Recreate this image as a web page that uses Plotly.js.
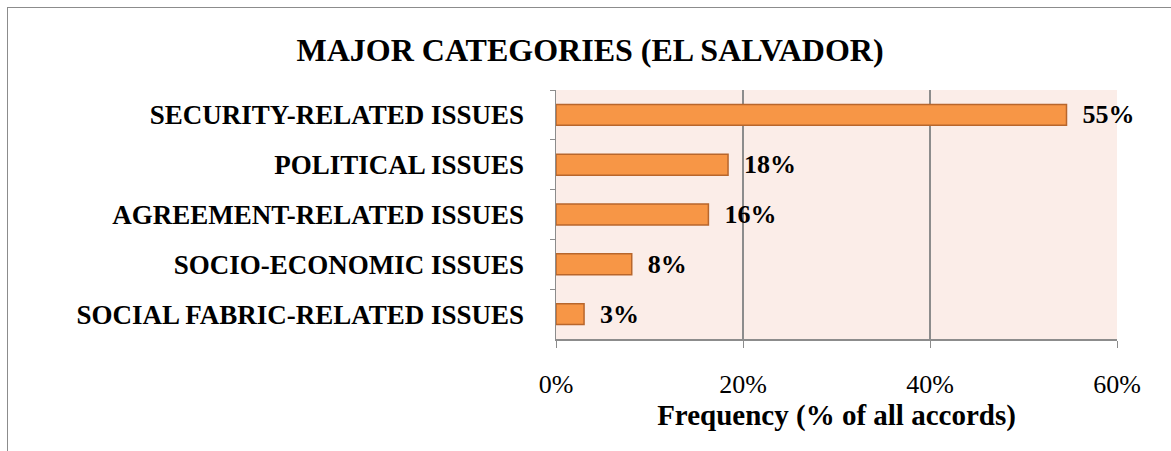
<!DOCTYPE html>
<html>
<head>
<meta charset="utf-8">
<script src="https://cdn.plot.ly/plotly-3.0.1.min.js"></script>
<style>
  body { margin: 0; background: #fff; }
  #myDiv { width: 1171px; height: 451px; }
  #frame {
    position: absolute; left: 7px; top: 7px; width: 1164px; height: 444px;
    border-top: 1px solid #8c8c8c; border-left: 1px solid #8c8c8c;
    pointer-events: none;
  }
</style>
</head>
<body>
<div id="myDiv"></div>
<div id="frame"></div>
<script>
// categories top to bottom, share of all accords (%)
let categorias = [
    "SECURITY-RELATED ISSUES",
    "POLITICAL ISSUES",
    "AGREEMENT-RELATED ISSUES",
    "SOCIO-ECONOMIC ISSUES",
    "SOCIAL FABRIC-RELATED ISSUES"
];
let frecuencias = [54.6, 18.4, 16.3, 8.1, 3.0];
let ticksX = [0, 20, 40, 60];
let ticksXTexto = ["0%", "20%", "40%", "60%"];

var fuente = 'Liberation Serif, Times New Roman, serif';

var data = [
    {
        y: categorias,
        x: frecuencias,
        type: 'bar',
        orientation: 'h',
        width: 0.42,
        marker: {
            color: '#F79646',
            line: { color: '#B8662C', width: 1.5 }
        },
        texttemplate: '\u00a0\u00a0<b>%{x:.0f}%</b>',
        textposition: 'outside',
        constraintext: 'none',
        cliponaxis: false,
        textfont: { family: fuente, size: 26, color: '#000' },
        hoverinfo: 'none'
    }
];

var layout = {
    title: {
        text: '<b>MAJOR CATEGORIES (EL SALVADOR)</b>',
        font: { family: fuente, size: 32, color: '#000' },
        x: 590 / 1171,
        xanchor: 'center',
        y: 1 - 50 / 451,
        yanchor: 'middle'
    },
    margin: { l: 556, r: 54, t: 90, b: 111 },
    plot_bgcolor: '#FBEDE8',
    paper_bgcolor: 'rgba(0,0,0,0)',
    showlegend: false,
    xaxis: {
        range: [0, 60],
        tickmode: 'array',
        tickvals: ticksX,
        ticktext: ticksXTexto,
        tickfont: { family: fuente, size: 26, color: '#000' },
        ticks: 'outside',
        ticklen: 7,
        tickcolor: '#8c8c8c',
        ticklabelstandoff: 14,
        showline: true,
        linecolor: '#8c8c8c',
        linewidth: 1.5,
        showgrid: true,
        gridcolor: '#8c8c8c',
        gridwidth: 1.2,
        zeroline: false,
        title: {
            text: '<b>Frequency (% of all accords)</b>',
            font: { family: fuente, size: 29, color: '#000' },
            standoff: 2
        },
        automargin: false,
        fixedrange: true
    },
    yaxis: {
        autorange: 'reversed',
        tickson: 'boundaries',
        ticks: 'outside',
        ticklen: 5,
        tickcolor: '#8c8c8c',
        ticklabelstandoff: 25,
        tickfont: { family: fuente, size: 27, color: '#000' },
        tickprefix: '<b>',
        ticksuffix: '</b>',
        showline: true,
        linecolor: '#8c8c8c',
        linewidth: 1.5,
        showgrid: false,
        zeroline: false,
        automargin: false,
        fixedrange: true
    },
    bargap: 0.58
};

Plotly.newPlot('myDiv', data, layout, { displayModeBar: false, staticPlot: true });
</script>
</body>
</html>
